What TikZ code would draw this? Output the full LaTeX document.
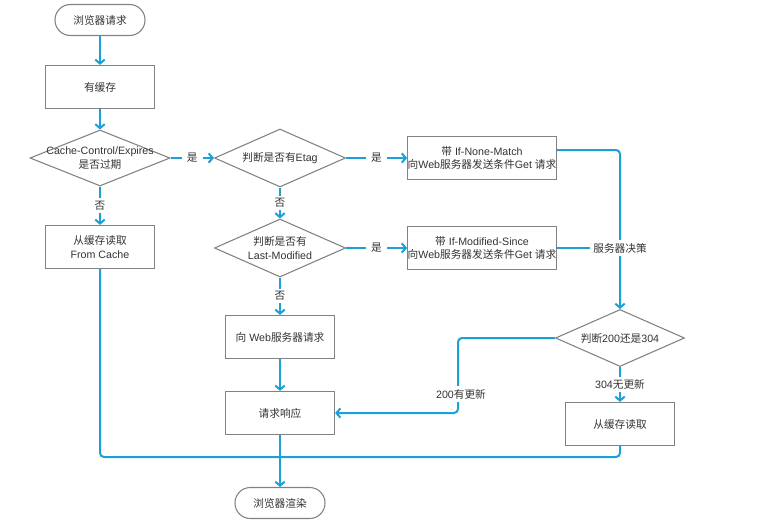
\documentclass[tikz,border=0pt]{standalone}
\usepackage{fontspec}
\setmainfont{Liberation Sans}
\newfontfamily\cjkfont{Noto Sans CJK SC}
\newcommand\zh[1]{{\cjkfont #1}}
\usetikzlibrary{shapes.geometric,arrows.meta}
\definecolor{flow}{RGB}{27,160,215}
\definecolor{edgegray}{RGB}{130,130,130}
\definecolor{txt}{RGB}{51,51,51}
\begin{document}
\begin{tikzpicture}[x=0.75pt,y=-0.75pt,
  font=\fontsize{8}{10}\selectfont, text=txt,
  box/.style={draw=edgegray, line width=0.9pt, fill=white, minimum width=81.75pt, minimum height=32.25pt, align=center, inner sep=0pt},
  widebox/.style={box, minimum width=110.25pt},
  term/.style={draw=edgegray, line width=0.8pt, fill=white, rounded corners=11.5pt, minimum width=67.5pt, minimum height=23.25pt, inner sep=0pt},
  dia/.style={draw=edgegray, line width=0.8pt, fill=white, diamond, inner sep=0pt, minimum width=#1*0.75pt},
  txtnode/.style={align=center, inner sep=0pt},
  conn/.style={draw=flow, line width=1.5pt, -{Straight Barb[length=3pt,width=7pt]}},
  plain/.style={draw=flow, line width=1.5pt},
  lbl/.style={fill=white, inner xsep=4pt, inner ysep=2pt, text=txt}
]
\path[use as bounding box, fill=white] (0,0) rectangle (761,522);

% shapes
\node[term] (start) at (100,20) {\zh{浏览器请求}};
\node[box] (cache) at (100,87) {\zh{有缓存}};
\node[dia=140, minimum height=42pt] (d1) at (100,158) {};
\node[txtnode] (d1t) at (d1.center) {Cache-Control/Expires\\\zh{是否过期}};
\node[box] (fromcache) at (100,247) {\zh{从缓存读取}\\From Cache};
\node[dia=131, minimum height=43.5pt] (d2) at (280,158) {};
\node[txtnode] (d2t) at (d2.center) {\zh{判断是否有}Etag};
\node[dia=131, minimum height=43.5pt] (d3) at (280,248) {};
\node[txtnode] (d3t) at (d3.center) {\zh{判断是否有}\\Last-Modified};
\node[widebox] (etag) at (482,158) {\zh{带} If-None-Match\\\zh{向}Web\zh{服务器发送条件}Get \zh{请求}};
\node[widebox] (lm) at (482,248) {\zh{带} If-Modified-Since\\\zh{向}Web\zh{服务器发送条件}Get \zh{请求}};
\node[dia=129, minimum height=42.75pt] (d4) at (620,338) {};
\node[txtnode] (d4t) at (d4.center) {\zh{判断}200\zh{还是}304};
\node[box] (fc2) at (620,424) {\zh{从缓存读取}};
\node[box] (req) at (280,337) {\zh{向} Web\zh{服务器请求}};
\node[box] (resp) at (280,413) {\zh{请求响应}};
\node[term] (end) at (280,503) {\zh{浏览器渲染}};

\coordinate (jn) at (280,457);
\coordinate (c200) at (458,380);

% connectors
\draw[conn] (start) -- (cache);
\draw[conn] (cache) -- (d1);
\draw[conn] (d1.south) -- node[lbl] (l1) {\zh{否}} (fromcache.north);
\draw[conn] (d1.east) -- node[lbl] (l2) {\zh{是}} (d2.west);
\draw[conn] (d2.east) -- node[lbl] (l3) {\zh{是}} (etag.west);
\draw[conn] (d2.south) -- node[lbl] (l4) {\zh{否}} (d3.north);
\draw[conn] (d3.east) -- node[lbl] (l5) {\zh{是}} (lm.west);
\draw[conn] (d3.south) -- node[lbl] (l6) {\zh{否}} (req.north);
\draw[conn] (req) -- (resp);
\draw[conn, rounded corners=3pt] ([yshift=6pt]etag.east) -| (d4.north);
\node[lbl, inner xsep=2pt] (decide) at (620,248) {\zh{服务器决策}};
\draw[plain] (lm.east) -- (decide.west);
\draw[conn, rounded corners=3pt] (d4.west) -| (c200) |- (resp.east);
\node[lbl, inner xsep=1pt] (l200) at (461,394) {200\zh{有更新}};
\draw[conn] (d4.south) -- node[lbl, inner xsep=1pt] (l304) {304\zh{无更新}} (fc2.north);
\draw[plain, rounded corners=3pt] (fc2.south) |- (jn);
\draw[plain, rounded corners=3pt] (fromcache.south) |- (jn);
\draw[conn] (resp.south) -- (end.north);
\end{tikzpicture}
\end{document}
